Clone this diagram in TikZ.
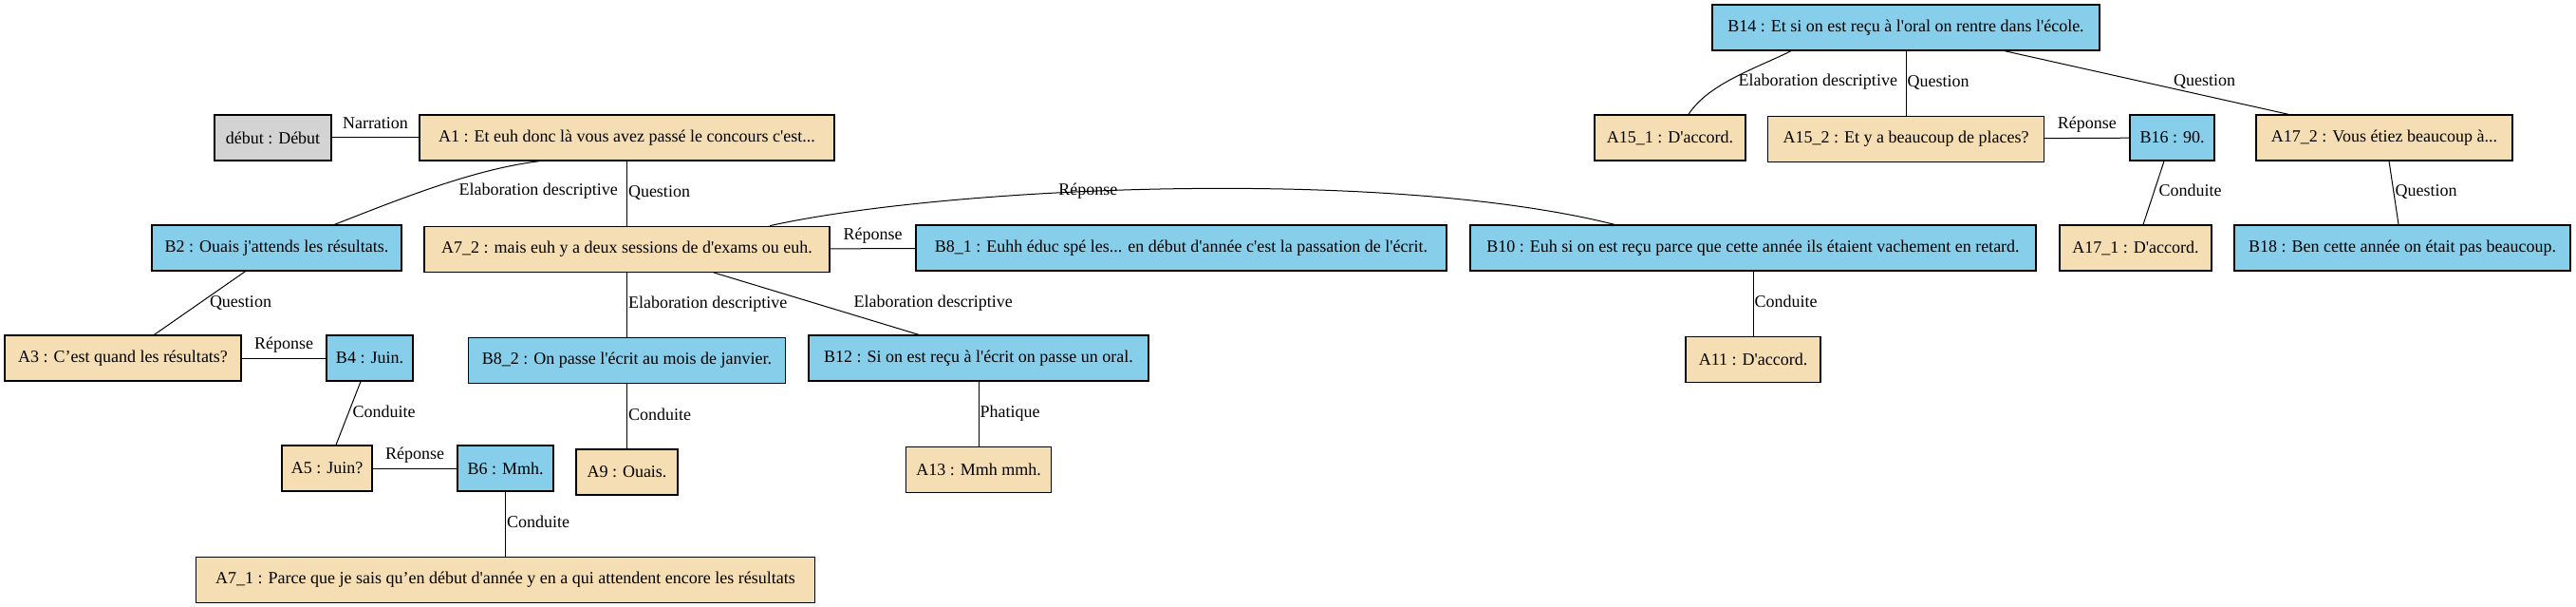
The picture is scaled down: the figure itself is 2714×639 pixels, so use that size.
\documentclass[tikz,border=0pt]{standalone}
\usepackage{fontspec}
\setmainfont{Liberation Serif}[Ligatures=TeXOff]
\usetikzlibrary{positioning}
\definecolor{wheat}{RGB}{245,222,179}
\definecolor{skyblue}{RGB}{135,206,235}
\definecolor{lgray}{RGB}{211,211,211}
\begin{document}
\begin{tikzpicture}[x=1pt, y=-1pt, node distance=68pt, line width=1pt,
  utt/.style = {draw, line width=1.3pt, minimum height=48pt, inner sep=3pt, font=\fontsize{18}{22}\selectfont},
  uttA/.style = {utt, fill=wheat},
  uttB/.style = {utt, fill=skyblue},
  uttD/.style = {utt, fill=lgray},
  lab/.style = {font=\fontsize{18}{22}\selectfont, inner sep=1pt, text height=12pt, text depth=4pt}]
\useasboundingbox (0,0) rectangle (2714,639);
\node[uttD, minimum width=123pt] (debut) at (287.5,145) {début : Début};
\node[uttA, minimum width=437pt] (A1) at (660.5,145) {A1 : Et euh donc là vous avez passé le concours c'est...};
\node[uttB, minimum width=263pt] (B2) at (291.5,261) {B2 : Ouais j'attends les résultats.};
\node[uttA, minimum width=427pt] (A7_2) [below=of A1] {A7\_2 : mais euh y a deux sessions de d'exams ou euh.};
\node[uttA, minimum width=249pt] (A3) at (129.5,377) {A3 : C’est quand les résultats?};
\node[uttB, minimum width=91pt] (B4) at (389.5,377) {B4 : Juin.};
\node[uttA, minimum width=95pt] (A5) at (344.5,493) {A5 : Juin?};
\node[uttB, minimum width=101pt] (B6) at (532.5,493) {B6 : Mmh.};
\node[uttA, minimum width=652pt] (A7_1) [below=of B6] {A7\_1 : Parce que je sais qu’en début d'année y en a qui attendent encore les résultats};
\node[uttB, minimum width=559pt] (B8_1) at (1244.5,261) {B8\_1 : Euhh éduc spé les... en début d'année c'est la passation de l'écrit.};
\node[uttB, minimum width=334pt] (B8_2) [below=of A7_2] {B8\_2 : On passe l'écrit au mois de janvier.};
\node[uttA, minimum width=107pt] (A9) [below=of B8_2] {A9 : Ouais.};
\node[uttB, minimum width=596pt] (B10) at (1847,261) {B10 : Euh si on est reçu parce que cette année ils étaient vachement en retard.};
\node[uttA, minimum width=142pt] (A11) [below=of B10] {A11 : D'accord.};
\node[uttB, minimum width=358pt] (B12) at (1031,377) {B12 : Si on est reçu à l'écrit on passe un oral.};
\node[uttA, minimum width=153pt] (A13) [below=of B12] {A13 : Mmh mmh.};
\node[uttB, minimum width=408pt] (B14) at (2008,29) {B14 : Et si on est reçu à l'oral on rentre dans l'école.};
\node[uttA, minimum width=159pt] (A15_1) at (1759.5,145) {A15\_1 : D'accord.};
\node[uttA, minimum width=291pt] (A15_2) [below=of B14] {A15\_2 : Et y a beaucoup de places?};
\node[uttB, minimum width=89pt] (B16) at (2288.5,145) {B16 : 90.};
\node[uttA, minimum width=270pt] (A17_2) at (2512,145) {A17\_2 : Vous étiez beaucoup à...};
\node[uttA, minimum width=160pt] (A17_1) at (2250,261) {A17\_1 : D'accord.};
\node[uttB, minimum width=354pt] (B18) at (2531,261) {B18 : Ben cette année on était pas beaucoup.};
% relations
\path (debut) edge node[lab, above=4pt] {Narration} (A1);
\draw ([xshift=-92pt]A1.south) .. controls (500,178) and (425,208) .. node[lab, anchor=west, xshift=20pt, yshift=-6pt] {Elaboration descriptive} ([xshift=61pt]B2.north);
\path (A1) edge node[lab, anchor=west] {Question} (A7_2);
\path ([xshift=-33pt]B2.south) edge node[lab, anchor=west, xshift=9pt] {Question} ([xshift=33pt]A3.north);
\path (A3) edge node[lab, above=4pt] {Réponse} (B4);
\path ([xshift=-9.5pt]B4.south) edge node[lab, anchor=west, xshift=3pt] {Conduite} ([xshift=9.5pt]A5.north);
\path (A5) edge node[lab, above=4pt] {Réponse} (B6);
\path (B6) edge node[lab, anchor=west] {Conduite} (A7_1);
\path (A7_2) edge node[lab, above=4pt] {Réponse} (B8_1);
\draw ([xshift=150.5pt]A7_2.north) .. controls (1000,196) and (1460,176) .. node[lab, pos=0.41] {Réponse} ([xshift=-146pt]B10.north);
\path (A7_2) edge node[lab, anchor=west] {Elaboration descriptive} (B8_2);
\path ([xshift=91.5pt]A7_2.south) edge node[lab, anchor=west, xshift=38pt] {Elaboration descriptive} ([xshift=-63pt]B12.north);
\path (B8_2) edge node[lab, anchor=west] {Conduite} (A9);
\path (B12) edge node[lab, anchor=west] {Phatique} (A13);
\path (B10) edge node[lab, anchor=west] {Conduite} (A11);
\draw ([xshift=-121pt]B14.south) .. controls (1850,72) and (1800,88) .. node[lab, anchor=west, xshift=3pt, yshift=-5pt] {Elaboration descriptive} ([xshift=19.5pt]A15_1.north);
\path (B14) edge node[lab, anchor=west] {Question} (A15_2);
\path ([xshift=104pt]B14.south) edge node[lab, anchor=west, xshift=27pt] {Question} ([xshift=-101pt]A17_2.north);
\path (A15_2) edge node[lab, above=4pt] {Réponse} (B16);
\path ([xshift=-8.5pt]B16.south) edge node[lab, anchor=west, xshift=4pt] {Conduite} ([xshift=8pt]A17_1.north);
\path ([xshift=5pt]A17_2.south) edge node[lab, anchor=west] {Question} ([xshift=-4pt]B18.north);
\end{tikzpicture}
\end{document}
